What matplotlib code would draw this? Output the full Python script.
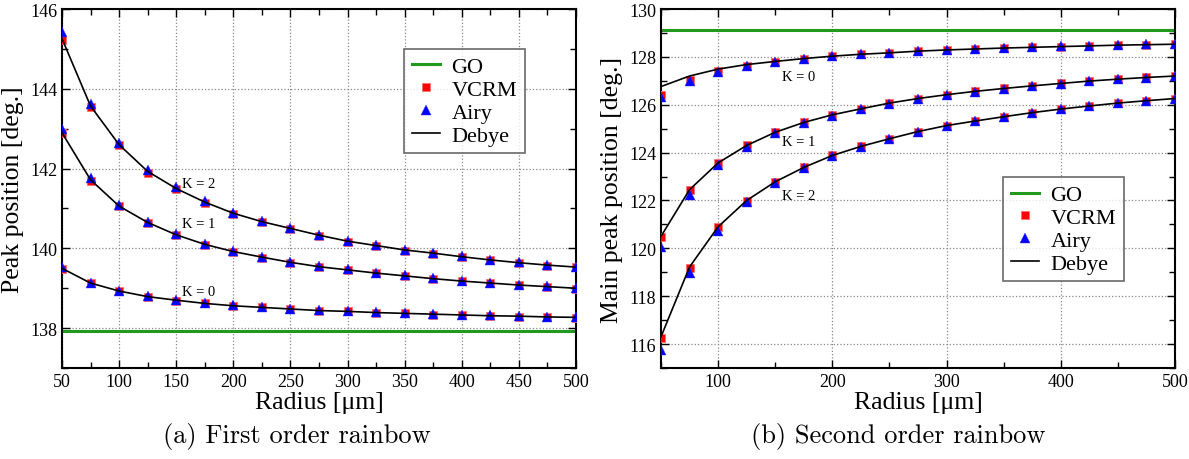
import numpy as np
import matplotlib
matplotlib.use('Agg')
import matplotlib.pyplot as plt
from matplotlib.ticker import MultipleLocator

plt.rcParams['font.family'] = ['Liberation Serif', 'DejaVu Serif']
plt.rcParams['mathtext.fontset'] = 'stix'

# -------------------------------------------------
# Data
# -------------------------------------------------
radius = [50, 75, 100, 125, 150, 175, 200, 225, 250, 275,
          300, 325, 350, 375, 400, 425, 450, 475, 500]

# (a) first order rainbow
go_1 = 137.93
vcrm_1_k0 = [139.48, 139.12, 138.92, 138.78, 138.69, 138.62, 138.56, 138.52, 138.47, 138.44,
             138.42, 138.39, 138.37, 138.34, 138.33, 138.31, 138.29, 138.28, 138.26]
airy_1_k0 = [139.52, 139.14, 138.94, 138.80, 138.71, 138.63, 138.57, 138.53, 138.48, 138.45,
             138.43, 138.40, 138.38, 138.35, 138.34, 138.32, 138.30, 138.29, 138.27]
debye_1_k0 = [139.50, 139.13, 138.93, 138.79, 138.70, 138.62, 138.56, 138.52, 138.48, 138.44,
              138.42, 138.39, 138.37, 138.35, 138.33, 138.31, 138.30, 138.28, 138.27]

vcrm_1_k1 = [142.88, 141.70, 141.05, 140.64, 140.33, 140.08, 139.91, 139.77, 139.64, 139.53,
             139.45, 139.37, 139.30, 139.23, 139.17, 139.12, 139.07, 139.03, 138.99]
airy_1_k1 = [142.98, 141.76, 141.09, 140.67, 140.36, 140.11, 139.94, 139.79, 139.66, 139.55,
             139.47, 139.39, 139.32, 139.25, 139.19, 139.14, 139.09, 139.05, 139.01]
debye_1_k1 = [142.90, 141.72, 141.06, 140.65, 140.34, 140.10, 139.92, 139.78, 139.65, 139.54,
              139.46, 139.38, 139.31, 139.24, 139.18, 139.13, 139.08, 139.04, 139.00]

vcrm_1_k2 = [145.23, 143.55, 142.58, 141.90, 141.48, 141.14, 140.86, 140.66, 140.48, 140.31,
             140.16, 140.06, 139.94, 139.86, 139.78, 139.70, 139.63, 139.57, 139.52]
airy_1_k2 = [145.42, 143.63, 142.65, 141.96, 141.53, 141.18, 140.89, 140.69, 140.51, 140.34,
             140.19, 140.09, 139.97, 139.89, 139.80, 139.72, 139.65, 139.59, 139.54]
debye_1_k2 = [145.26, 143.57, 142.60, 141.93, 141.50, 141.16, 140.88, 140.67, 140.50, 140.33,
              140.18, 140.07, 139.96, 139.88, 139.79, 139.71, 139.64, 139.58, 139.53]

# (b) second order rainbow
go_2 = 129.12
vcrm_2_k0 = [126.39, 127.04, 127.43, 127.64, 127.79, 127.92, 128.03, 128.10, 128.17, 128.24,
             128.29, 128.33, 128.36, 128.40, 128.43, 128.46, 128.49, 128.51, 128.53]
airy_2_k0 = [126.32, 127.00, 127.38, 127.62, 127.78, 127.91, 128.03, 128.11, 128.18, 128.24,
             128.29, 128.33, 128.37, 128.41, 128.44, 128.47, 128.50, 128.52, 128.54]
debye_2_k0 = [126.76, 127.20, 127.49, 127.68, 127.81, 127.93, 128.03, 128.11, 128.17, 128.24,
              128.29, 128.33, 128.37, 128.40, 128.43, 128.46, 128.49, 128.51, 128.53]

vcrm_2_k1 = [120.46, 122.43, 123.57, 124.30, 124.85, 125.26, 125.58, 125.83, 126.07, 126.26,
             126.42, 126.56, 126.68, 126.79, 126.89, 126.99, 127.07, 127.14, 127.20]
airy_2_k1 = [120.07, 122.25, 123.47, 124.23, 124.80, 125.22, 125.55, 125.81, 126.05, 126.24,
             126.41, 126.55, 126.67, 126.78, 126.88, 126.98, 127.06, 127.13, 127.19]
debye_2_k1 = [120.50, 122.45, 123.57, 124.30, 124.85, 125.26, 125.58, 125.83, 126.07, 126.26,
              126.42, 126.56, 126.68, 126.79, 126.89, 126.99, 127.07, 127.14, 127.20]

vcrm_2_k2 = [116.25, 119.19, 120.88, 121.99, 122.78, 123.38, 123.88, 124.26, 124.58, 124.88,
             125.13, 125.32, 125.50, 125.67, 125.82, 125.95, 126.07, 126.17, 126.26]
airy_2_k2 = [115.76, 118.96, 120.74, 121.92, 122.74, 123.35, 123.86, 124.25, 124.57, 124.87,
             125.12, 125.31, 125.49, 125.66, 125.81, 125.94, 126.06, 126.16, 126.25]
debye_2_k2 = [116.30, 119.22, 120.90, 122.00, 122.78, 123.38, 123.88, 124.26, 124.58, 124.88,
              125.13, 125.32, 125.50, 125.67, 125.82, 125.95, 126.07, 126.17, 126.26]

labels_1 = {'K = 0': (155, 138.93), 'K = 1': (155, 140.63), 'K = 2': (155, 141.63)}
labels_2 = {'K = 0': (156, 127.18), 'K = 1': (156, 124.47), 'K = 2': (156, 122.22)}

# -------------------------------------------------
# Plotting
# -------------------------------------------------
fig = plt.figure(figsize=(11.89, 4.60), dpi=100)
ax1 = fig.add_axes([0.0521, 0.1978, 0.4323, 0.7804])
ax2 = fig.add_axes([0.5559, 0.1978, 0.4323, 0.7804])

GREEN = '#1f9a1f'


def draw(ax, go, vcrm, airy, debye, labels):
    ax.axhline(go, color=GREEN, lw=2.2, zorder=2, label='GO')
    for i, (v, a, d) in enumerate(zip(vcrm, airy, debye)):
        ax.plot(radius, v, 's', color='red', ms=6, mec='#ff7070', mew=0.6,
                zorder=3, label='VCRM' if i == 0 else None)
        ax.plot(radius, a, '^', color='blue', ms=6.5, mec='#3030ff', mew=0.3,
                zorder=4, label='Airy' if i == 0 else None)
        ax.plot(radius, d, '-', color='black', lw=1.2, zorder=5,
                label='Debye' if i == 0 else None)
    for txt, (x, y) in labels.items():
        ax.text(x, y, txt, fontsize=10.5, ha='left', va='center', zorder=6)
    ax.set_xlim(50, 500)
    ax.grid(True, which='major', color='#888888', linestyle=':', linewidth=0.9)
    ax.tick_params(which='both', direction='in', top=True, right=True, labelsize=13)
    ax.tick_params(which='major', length=6, width=1)
    ax.tick_params(which='minor', length=4, width=1)
    for s in ax.spines.values():
        s.set_linewidth(1.5)
    ax.set_xlabel('Radius [μm]', fontsize=18.5, labelpad=1)


draw(ax1, go_1, [vcrm_1_k0, vcrm_1_k1, vcrm_1_k2], [airy_1_k0, airy_1_k1, airy_1_k2],
     [debye_1_k0, debye_1_k1, debye_1_k2], labels_1)
ax1.set_ylim(137, 146)
ax1.xaxis.set_major_locator(MultipleLocator(50))
ax1.xaxis.set_minor_locator(MultipleLocator(25))
ax1.yaxis.set_minor_locator(MultipleLocator(1))
ax1.set_yticks([138, 140, 142, 144, 146])
ax1.set_ylabel('Peak position [deg.]', fontsize=18.5, labelpad=4)

draw(ax2, go_2, [vcrm_2_k0, vcrm_2_k1, vcrm_2_k2], [airy_2_k0, airy_2_k1, airy_2_k2],
     [debye_2_k0, debye_2_k1, debye_2_k2], labels_2)
ax2.set_ylim(115, 130)
ax2.set_xticks([100, 200, 300, 400, 500])
ax2.xaxis.set_minor_locator(MultipleLocator(50))
ax2.set_yticks(list(range(116, 131, 2)))
ax2.yaxis.set_minor_locator(MultipleLocator(1))
ax2.set_ylabel('Main peak position [deg.]', fontsize=18.5, labelpad=4)

leg_kw = dict(fontsize=16, frameon=True, fancybox=False, edgecolor='#444444',
              handlelength=1.3, handletextpad=0.5, borderpad=0.35, labelspacing=0.1,
              borderaxespad=0)
l1 = ax1.legend(loc='upper left', bbox_to_anchor=(0.665, 0.889), **leg_kw)
l2 = ax2.legend(loc='upper left', bbox_to_anchor=(0.665, 0.532), **leg_kw)
for lg in (l1, l2):
    lg.get_frame().set_linewidth(1.2)
    lg.set_zorder(10)

fig.text(0.2498, 0.05, '(a) First order rainbow', ha='center', va='center',
         fontsize=19, family='cmr10')
fig.text(0.7552, 0.05, '(b) Second order rainbow', ha='center', va='center',
         fontsize=19, family='cmr10')

fig.savefig('out.png', dpi=100)
